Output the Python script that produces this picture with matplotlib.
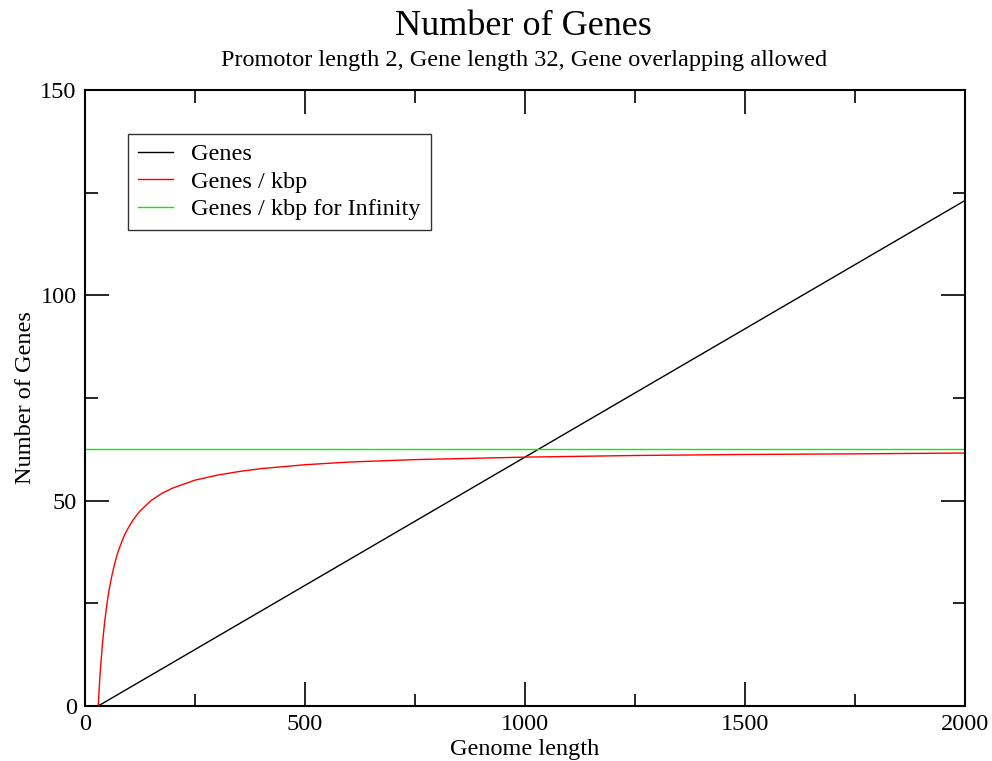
import numpy as np
import matplotlib
matplotlib.use("Agg")
import matplotlib.pyplot as plt
from matplotlib.ticker import MultipleLocator

# values
genes_x = [30, 2000]
genes_y = [0, 123.1]

kbp_x = [30, 33, 35, 40, 45, 50, 55, 60, 65, 70, 75, 80, 90, 100, 110, 125,
         150, 175, 200, 250, 300, 350, 400, 500, 600, 750, 1000, 1250, 1500,
         1750, 2000]
kbp_y = [0, 5.7, 8.9, 15.6, 20.8, 25.0, 28.4, 31.2, 33.6, 35.7, 37.5, 39.0,
         41.7, 43.7, 45.4, 47.5, 50.0, 51.8, 53.1, 55.0, 56.2, 57.1, 57.8,
         58.75, 59.4, 60.0, 60.6, 61.0, 61.25, 61.4, 61.6]

inf_x = [0, 2000]
inf_y = [62.5, 62.5]

plt.rcParams['font.family'] = ['Liberation Serif', 'DejaVu Serif']

fig = plt.figure(figsize=(9.92, 7.61), dpi=100)
ax = fig.add_axes([0.0857, 0.0723, 0.8871, 0.8094])

ax.plot(genes_x, genes_y, color='black', lw=1.0, label='Genes')
ax.plot(kbp_x, kbp_y, color='red', lw=1.0, label='Genes / kbp')
ax.plot(inf_x, inf_y, color='#00f000', lw=1.0, label='Genes / kbp for Infinity')

ax.set_xlim(0, 2000)
ax.set_ylim(0, 150)
ax.xaxis.set_major_locator(MultipleLocator(500))
ax.xaxis.set_minor_locator(MultipleLocator(250))
ax.yaxis.set_major_locator(MultipleLocator(50))
ax.yaxis.set_minor_locator(MultipleLocator(25))
ax.tick_params(which='both', direction='in', top=True, right=True, labelsize=17.5, width=1.2)
ax.tick_params(which='major', length=17, pad=6)
ax.tick_params(which='minor', length=9)
for s in ax.spines.values():
    s.set_linewidth(1.5)

ax.set_xlabel('Genome length', fontsize=17.5, labelpad=3)
ax.set_ylabel('Number of Genes', fontsize=17.5, labelpad=3)

fig.text(0.528, 0.965, 'Number of Genes', ha='center', va='center', fontsize=26)
fig.text(0.528, 0.921, 'Promotor length 2, Gene length 32, Gene overlapping allowed',
         ha='center', va='center', fontsize=17.5)

leg = ax.legend(loc='upper left', bbox_to_anchor=(0.049, 0.929), fontsize=17.5,
                frameon=True, fancybox=False, handlelength=1.45, handletextpad=0.75,
                borderpad=0.4, labelspacing=0.22, borderaxespad=0)
leg.get_frame().set_edgecolor('black')
leg.get_frame().set_linewidth(1.0)

fig.savefig('out.png', dpi=100)
